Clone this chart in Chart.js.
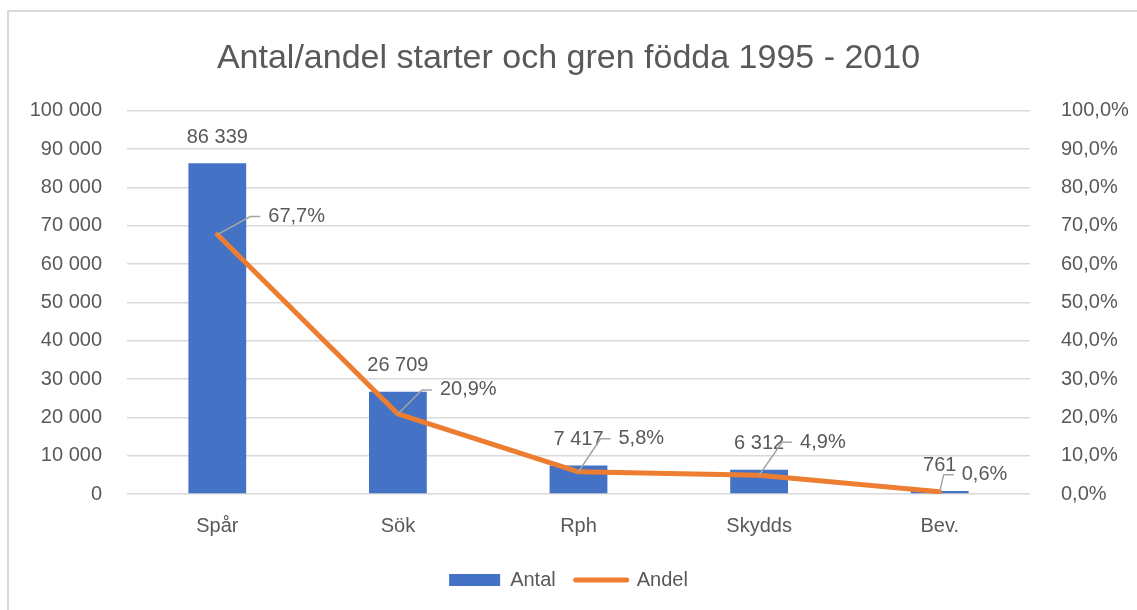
<!DOCTYPE html>
<html>
<head>
<meta charset="utf-8">
<script src="https://cdn.jsdelivr.net/npm/chart.js@4.4.0/dist/chart.umd.min.js"></script>
<style>
  html, body { margin: 0; padding: 0; background: #fff; }
  #wrap { width: 1137px; height: 610px; position: relative; }
</style>
</head>
<body>
<div id="wrap"><canvas id="chart"></canvas></div>
<script>
'use strict';

const categories = ['Spår', 'Sök', 'Rph', 'Skydds', 'Bev.'];
const antal = [86339, 26709, 7417, 6312, 761];
const andel = [67.7, 20.9, 5.8, 4.9, 0.6];

// where the Andel labels sit relative to their point (leader bend dx, dy)
const andelLabelShift = [[33, -18], [24, -24], [22, -33], [23, -33], [4, -17]];

const FONT = '"Liberation Sans", Arial, sans-serif';
const GREY_TEXT = '#595959';

function formatThousands(n) {
  return String(n).replace(/\B(?=(\d{3})+(?!\d))/g, ' ');
}

function formatPct(v) {
  return v.toFixed(1).replace('.', ',') + '%';
}

// white background + the thin frame Excel draws round the chart
const frame = {
  id: 'frame',
  beforeDraw(chart) {
    const { ctx, width, height } = chart;
    ctx.save();
    ctx.fillStyle = '#fff';
    ctx.fillRect(0, 0, width, height);
    ctx.strokeStyle = '#d9d9d9';
    ctx.lineWidth = 2;
    ctx.beginPath();
    ctx.moveTo(8, height);
    ctx.lineTo(8, 11);
    ctx.lineTo(width, 11);
    ctx.stroke();
    ctx.restore();
  }
};

const valueLabels = {
  id: 'valueLabels',
  afterDatasetsDraw(chart) {
    const { ctx } = chart;
    ctx.save();
    ctx.font = '20px ' + FONT;
    ctx.fillStyle = GREY_TEXT;
    ctx.textBaseline = 'middle';

    // Antal above each bar
    ctx.textAlign = 'center';
    chart.getDatasetMeta(0).data.forEach((bar, i) => {
      ctx.fillText(formatThousands(antal[i]), bar.x, bar.y - 26);
    });

    // Andel to the right with a leader line
    ctx.textAlign = 'left';
    ctx.strokeStyle = '#a6a6a6';
    ctx.lineWidth = 1.5;
    chart.getDatasetMeta(1).data.forEach((pt, i) => {
      const [dx, dy] = andelLabelShift[i];
      ctx.beginPath();
      ctx.moveTo(pt.x, pt.y);
      ctx.lineTo(pt.x + dx, pt.y + dy);
      ctx.lineTo(pt.x + dx + 10, pt.y + dy);
      ctx.stroke();
      ctx.fillText(formatPct(andel[i]), pt.x + dx + 18, pt.y + dy);
    });
    ctx.restore();
  }
};

const ctx = document.getElementById('chart').getContext('2d');

new Chart(ctx, {
  type: 'bar',
  data: {
    labels: categories,
    datasets: [
      {
        label: 'Antal',
        data: antal,
        backgroundColor: '#4472c4',
        categoryPercentage: 1,
        barPercentage: 0.32,
        yAxisID: 'y',
        order: 1,
      },
      {
        type: 'line',
        label: 'Andel',
        data: andel,
        borderColor: '#ed7d31',
        backgroundColor: '#ed7d31',
        borderWidth: 5,
        borderCapStyle: 'round',
        borderJoinStyle: 'round',
        pointRadius: 0,
        tension: 0,
        yAxisID: 'y1',
        order: 0,
      },
    ],
  },
  plugins: [frame, valueLabels],
  options: {
    responsive: true,
    maintainAspectRatio: false,
    animation: false,
    layout: { padding: { left: 0, right: 0, top: 0, bottom: 10 } },
    scales: {
      x: {
        grid: { display: false },
        border: { display: false },
        ticks: {
          color: GREY_TEXT,
          font: { family: FONT, size: 20 },
          padding: 12,
        },
        afterFit: (scale) => { scale.height = 56; },
      },
      y: {
        position: 'left',
        min: 0,
        max: 100000,
        grid: { color: '#d9d9d9', lineWidth: 1.5, drawTicks: false },
        border: { display: false },
        ticks: {
          stepSize: 10000,
          color: GREY_TEXT,
          font: { family: FONT, size: 20 },
          padding: 25,
          callback: (v) => formatThousands(v),
        },
        afterFit: (scale) => { scale.width = 127; },
      },
      y1: {
        position: 'right',
        min: 0,
        max: 100,
        grid: { display: false },
        border: { display: false },
        ticks: {
          stepSize: 10,
          color: GREY_TEXT,
          font: { family: FONT, size: 20 },
          padding: 23,
          callback: (v) => formatPct(v),
        },
        afterFit: (scale) => { scale.width = 107; },
      },
    },
    plugins: {
      title: {
        display: true,
        text: 'Antal/andel starter och gren födda 1995 - 2010',
        color: GREY_TEXT,
        font: { family: FONT, size: 34, weight: 'normal' },
        padding: { top: 38, bottom: 32 },
      },
      legend: {
        position: 'bottom',
        labels: {
          color: GREY_TEXT,
          font: { family: FONT, size: 20 },
          usePointStyle: true,
          pointStyleWidth: 51,
          boxHeight: 12,
          padding: 20,
          generateLabels: (chart) => chart.data.datasets.map((ds, i) => ({
            text: ds.label,
            datasetIndex: i,
            fillStyle: ds.backgroundColor,
            strokeStyle: ds.type === 'line' ? ds.borderColor : ds.backgroundColor,
            lineWidth: ds.type === 'line' ? 5 : 0,
            lineCap: 'round',
            pointStyle: ds.type === 'line' ? 'line' : 'rect',
            fontColor: GREY_TEXT,
            hidden: false,
          })),
        },
      },
      tooltip: { enabled: false },
    },
  },
});
</script>
</body>
</html>
